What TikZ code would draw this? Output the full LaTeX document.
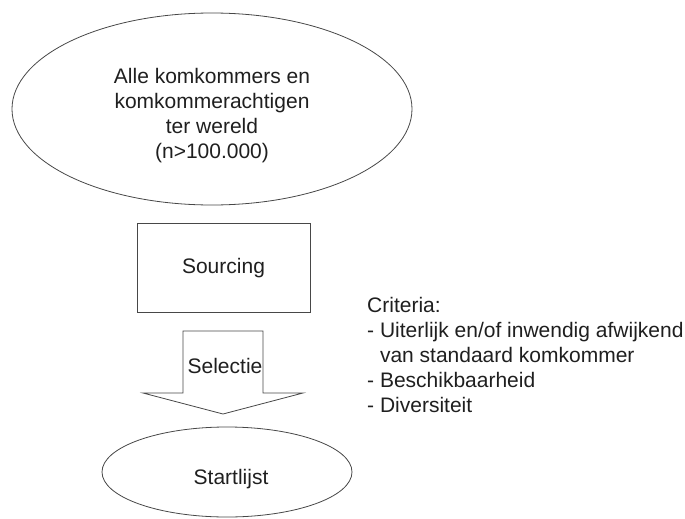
\documentclass[tikz,border=0pt]{standalone}
\usepackage{fontspec}
\setmainfont{Liberation Sans}
\usetikzlibrary{shapes.geometric}
\begin{document}
\begin{tikzpicture}[x=1pt,y=-1pt,
  outline/.style={draw=black!72,line width=0.8pt},
  label/.style={font=\fontsize{21}{25}\selectfont,text=black!88,inner sep=0pt},
  oval/.style={outline,ellipse,inner sep=0pt}]
\useasboundingbox (0,0) rectangle (685,519);

% population of all cucumbers
\node[oval,minimum width=400pt,minimum height=192pt] (world) at (212,109) {};
\node[label,align=center] (worldtext) at (212,116)
  {Alle komkommers en\\komkommerachtigen\\ter wereld\\(n>100.000)};

% sourcing step
\node[outline,label,minimum width=173pt,minimum height=89pt,
      text height=15pt,text depth=4pt] (sourcing) at (223.5,267.5) {Sourcing};

% selection block arrow
\coordinate (a1) at (183,331);
\coordinate (a2) at (263,331);
\coordinate (a3) at (263,393);
\coordinate (a4) at (303,393);
\coordinate (tip) at (223,414);
\coordinate (a6) at (143,393);
\coordinate (a7) at (183,393);
\draw[outline,line join=miter] (a1) -- (a2) -- (a3) -- (a4) -- (tip) -- (a6) -- (a7) -- cycle;
\node[label] (selectie) at (225,366) {Selectie};

% resulting start list
\node[oval,minimum width=250pt,minimum height=90pt] (start) at (227,472) {};
\node[label] (starttext) at (231,479) {Startlijst};

% selection criteria
\node[label,align=left,anchor=north west] (criteria) at (367,297.5)
  {Criteria:\\- Uiterlijk en/of inwendig afwijkend\\\phantom{- }van standaard komkommer\\- Beschikbaarheid\\- Diversiteit};
\end{tikzpicture}
\end{document}
